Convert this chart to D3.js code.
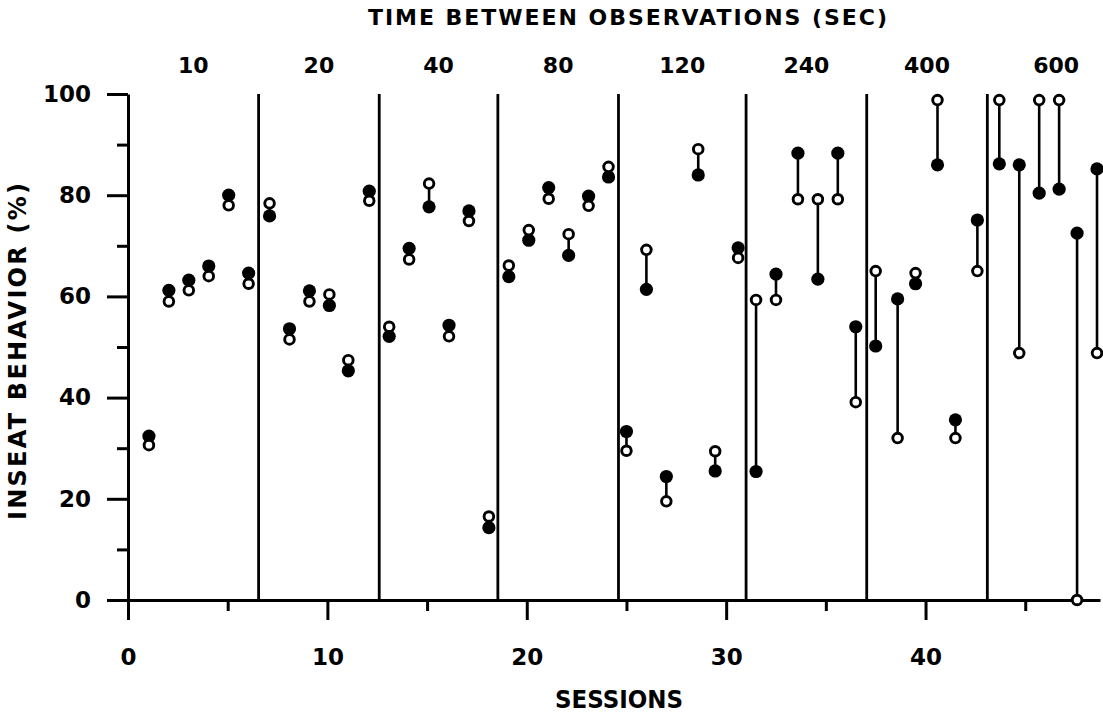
<!DOCTYPE html>
<html>
<head>
<meta charset="utf-8">
<script src="https://cdn.jsdelivr.net/npm/d3@7"></script>
<style>
  body { margin: 0; background: #fff; }
  svg text { font-family: "DejaVu Sans", sans-serif; font-weight: bold; fill: #000; }
</style>
</head>
<body>
<svg id="chart" width="1103" height="715"></svg>
<script>
// session positions
const sessions = [1.05, 2.05, 3.05, 4.05, 5.05, 6.05, 7.1, 8.1, 9.1, 10.1, 11.05, 12.1,
  13.1, 14.1, 15.1, 16.1, 17.1, 18.1, 19.1, 20.1, 21.1, 22.1, 23.1, 24.1,
  25.0, 26.0, 27.0, 28.6, 29.45, 30.6, 31.5, 32.5, 33.6, 34.6, 35.6, 36.5,
  37.5, 38.6, 39.5, 40.6, 41.5, 42.6, 43.7, 44.7, 45.7, 46.7, 47.6, 48.6];

// filled circles
const filledValues = [32.4, 61.2, 63.2, 66, 80, 64.6, 75.9, 53.6, 61.1, 58.2, 45.3, 80.8,
  52.1, 69.5, 77.7, 54.3, 76.9, 14.3, 63.9, 71.1, 81.5, 68.1, 79.8, 83.6,
  33.3, 61.4, 24.4, 84, 25.5, 69.6, 25.4, 64.4, 88.3, 63.4, 88.3, 54,
  50.2, 59.5, 62.5, 86, 35.6, 75.1, 86.2, 86, 80.4, 81.2, 72.5, 85.2];

// open circles
const openValues = [30.6, 59, 61.2, 64, 78, 62.5, 78.4, 51.5, 59, 60.4, 47.4, 78.9,
  54, 67.3, 82.3, 52.1, 74.9, 16.5, 66.1, 73.1, 79.3, 72.3, 77.9, 85.6,
  29.5, 69.2, 19.5, 89.1, 29.4, 67.6, 59.3, 59.3, 79.2, 79.2, 79.2, 39.1,
  65, 32, 64.6, 98.8, 32, 65, 98.8, 48.8, 98.8, 98.8, 0, 48.8];

// phase boundaries (sessions) and the interval labels above them
const dividers = [6.55, 12.6, 18.55, 24.6, 31.0, 37.05, 43.1];
const intervalLabels = ["10", "20", "40", "80", "120", "240", "400", "600"];

const xMajorTicks = [0, 10, 20, 30, 40];
const xMinorTicks = [5, 15, 25, 35, 45];
const yMajorTicks = [0, 20, 40, 60, 80, 100];
const yMinorTicks = [10, 30, 50, 70, 90];

const data = sessions.map((s, i) => ({ s, filled: filledValues[i], open: openValues[i] }));

const svg = d3.select("#chart");

const x = d3.scaleLinear().domain([0, 48.75]).range([128, 1100]);
const y = d3.scaleLinear().domain([0, 100]).range([600, 94]);

// vertical phase lines
svg.append("g")
  .selectAll("line")
  .data(dividers)
  .join("line")
  .attr("x1", d => x(d)).attr("x2", d => x(d))
  .attr("y1", y(100)).attr("y2", y(0))
  .attr("stroke", "#000")
  .attr("stroke-width", 2.8);

// minor ticks
svg.append("g")
  .attr("transform", `translate(${x(0)},0)`)
  .call(d3.axisLeft(y).tickValues(yMinorTicks).tickSize(11).tickSizeOuter(0).tickFormat(""))
  .call(g => g.select(".domain").remove());

svg.append("g")
  .attr("transform", `translate(0,${y(0)})`)
  .call(d3.axisBottom(x).tickValues(xMinorTicks).tickSize(11).tickSizeOuter(0).tickFormat(""))
  .call(g => g.select(".domain").remove());

// major axes
svg.append("g")
  .attr("transform", `translate(${x(0)},0)`)
  .call(d3.axisLeft(y).tickValues(yMajorTicks).tickSize(21).tickSizeOuter(0).tickPadding(16));

svg.append("g")
  .attr("transform", `translate(0,${y(0)})`)
  .call(d3.axisBottom(x).tickValues(xMajorTicks).tickSize(20).tickSizeOuter(0).tickPadding(29));

svg.selectAll(".tick line, .domain")
  .attr("stroke", "#000")
  .attr("stroke-width", 3);

svg.selectAll(".tick text")
  .style("font-family", "DejaVu Sans")
  .style("font-weight", "bold")
  .style("font-size", "23px")
  .attr("fill", "#000");

// stems between the two measures
svg.append("g")
  .selectAll("line")
  .data(data)
  .join("line")
  .attr("x1", d => x(d.s)).attr("x2", d => x(d.s))
  .attr("y1", d => y(d.filled)).attr("y2", d => y(d.open))
  .attr("stroke", "#000")
  .attr("stroke-width", 2.6);

svg.append("g")
  .selectAll("circle")
  .data(data)
  .join("circle")
  .attr("cx", d => x(d.s))
  .attr("cy", d => y(d.filled))
  .attr("r", 6.6)
  .attr("fill", "#000");

svg.append("g")
  .selectAll("circle")
  .data(data)
  .join("circle")
  .attr("cx", d => x(d.s))
  .attr("cy", d => y(d.open))
  .attr("r", 4.8)
  .attr("fill", "#fff")
  .attr("stroke", "#000")
  .attr("stroke-width", 2.9);

// interval labels centred in each phase
const bounds = [0, ...dividers, 50];
svg.append("g")
  .selectAll("text")
  .data(intervalLabels)
  .join("text")
  .attr("x", (d, i) => x((bounds[i] + bounds[i + 1]) / 2))
  .attr("y", 73)
  .attr("text-anchor", "middle")
  .style("font-size", "22px")
  .text(d => d);

// titles
svg.append("text")
  .attr("x", 368)
  .attr("y", 25)
  .attr("textLength", 519)
  .attr("lengthAdjust", "spacing")
  .style("font-size", "22px")
  .text("TIME BETWEEN OBSERVATIONS (SEC)");

svg.append("text")
  .attr("x", 555)
  .attr("y", 708)
  .attr("textLength", 128)
  .attr("lengthAdjust", "spacingAndGlyphs")
  .style("font-size", "24px")
  .text("SESSIONS");

svg.append("text")
  .attr("transform", "translate(26,520) rotate(-90)")
  .attr("textLength", 337)
  .attr("lengthAdjust", "spacing")
  .style("font-size", "24px")
  .text("INSEAT BEHAVIOR (%)");
</script>
</body>
</html>
